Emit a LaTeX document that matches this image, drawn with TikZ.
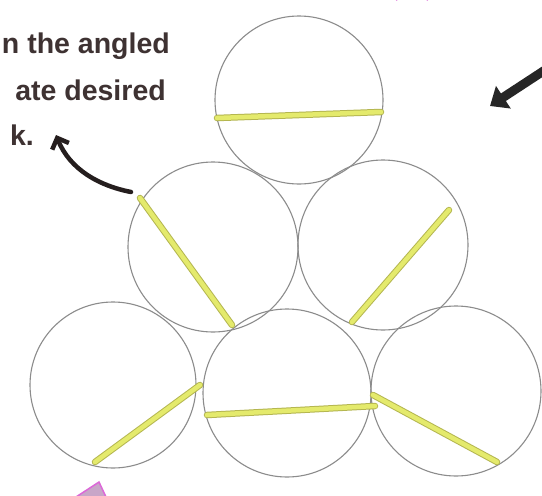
\documentclass[tikz,border=0pt]{standalone}
\usepackage{fontspec}
\setmainfont{Liberation Sans}
\usetikzlibrary{arrows.meta}
\definecolor{ink}{HTML}{3E3232}
\definecolor{rim}{HTML}{8C8C8C}
\definecolor{hl}{HTML}{E4EA6C}
\definecolor{hledge}{HTML}{B4B650}
\definecolor{pinkline}{HTML}{DC68D8}
\definecolor{pinkfill}{HTML}{C8A6C8}
\tikzset{
  ball/.style={circle, draw=rim, line width=1.1pt, inner sep=0pt},
  hand/.style={ink, font=\bfseries\fontsize{28.5}{30}\selectfont, inner sep=0pt},
  mark1/.style={hledge, line width=6.5pt, line cap=round},
  mark2/.style={hl, line width=4.5pt, line cap=round},
}
\begin{document}
\begin{tikzpicture}[x=1pt, y=-1pt]
\useasboundingbox (0,0) rectangle (542,496);
\clip (0,0) rectangle (542,496);
\fill[white] (0,0) rectangle (542,496);
% circles
\node[ball, minimum size=168pt] (c1) at (299,100) {};
\node[ball, minimum size=170pt] (c2) at (213,247) {};
\node[ball, minimum size=170pt] (c3) at (383,245) {};
\node[ball, minimum size=166pt] (c4) at (113,385) {};
\node[ball, minimum size=168pt] (c5) at (287,393) {};
\node[ball, minimum size=170pt] (c6) at (456,391) {};
% yellow marks
\foreach \a/\b in {{(217,118)}/{(381,112)}, {(140,198)}/{(232,325)}, {(352,322)}/{(449,210)}, {(95,462)}/{(200,385)}, {(207,415)}/{(375,406)}, {(373,395)}/{(497,462)}}{
  \draw[mark1] \a -- \b;
}
\foreach \a/\b in {{(217,118)}/{(381,112)}, {(140,198)}/{(232,325)}, {(352,322)}/{(449,210)}, {(95,462)}/{(200,385)}, {(207,415)}/{(375,406)}, {(373,395)}/{(497,462)}}{
  \draw[mark2] \a -- \b;
}
% text
\node[hand, anchor=base east] (t1) at (170,53) {n the angled};
\node[hand, anchor=base east] (t2) at (166,100) {ate desired};
\node[hand, anchor=base east] (t3) at (34,145) {k.};
% arrows
\coordinate (la) at (131,192);
\coordinate (lb) at (56,135);
\draw[ink!60!black, line width=4.5pt, line cap=round, -{Straight Barb[length=9pt,width=18pt]}]
  (la) .. controls (100,186) and (70,170) .. (lb);
\coordinate (ra) at (545,70);
\coordinate (rb) at (490,106);
\draw[black!85, line width=9pt, -{Triangle[length=16pt,width=26pt]}] (ra) -- (rb);
% pink fragments
\draw[pinkline, line width=2pt] (396,0) arc[start angle=180, end angle=360, x radius=16, y radius=2.5];
\filldraw[draw=pinkline, fill=pinkfill, line width=1.5pt] (76,497) -- (99,482) -- (106,497) -- cycle;
\end{tikzpicture}
\end{document}
